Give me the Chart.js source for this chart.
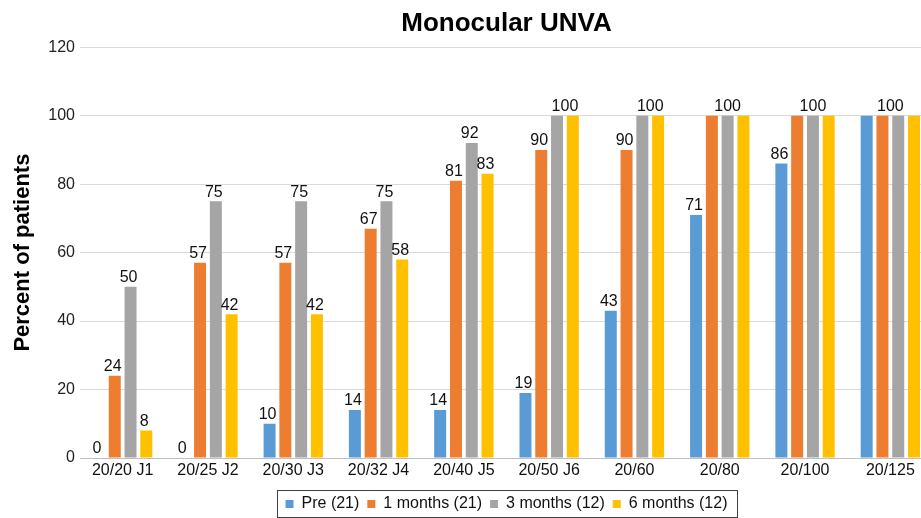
<!DOCTYPE html>
<html>
<head>
<meta charset="utf-8">
<script src="https://cdn.jsdelivr.net/npm/chart.js@4"></script>
<style>
  html, body { margin: 0; padding: 0; background: #fff; overflow: hidden; }
  #wrap { width: 940px; height: 518px; }
</style>
</head>
<body>
<div id="wrap"><canvas id="barChart" width="940" height="518"></canvas></div>
<script>
  // Chart data
  const categories = ['20/20 J1', '20/25 J2', '20/30 J3', '20/32 J4', '20/40 J5', '20/50 J6', '20/60', '20/80', '20/100', '20/125'];
  const seriesNames = ['Pre (21)', '1 months (21)', '3 months (12)', '6 months (12)'];
  const preValues = [0, 0, 10, 14, 14, 19, 43, 71, 86, 100];
  const oneMonthValues = [24, 57, 57, 67, 81, 90, 90, 100, 100, 100];
  const threeMonthValues = [50, 75, 75, 75, 92, 100, 100, 100, 100, 100];
  const sixMonthValues = [8, 42, 42, 58, 83, 100, 100, 100, 100, 100];
  const yTicks = [0, 20, 40, 60, 80, 100, 120];

  const colors = ['#5b9bd5', '#ed7d31', '#a5a5a5', '#ffc000'];
  const allValues = [preValues, oneMonthValues, threeMonthValues, sixMonthValues];
  const fontFamily = '"Liberation Sans", Arial, sans-serif';

  // Value labels above bars; bars at 100 share one label per group
  const valueLabels = {
    id: 'valueLabels',
    afterDatasetsDraw(chart) {
      const ctx = chart.ctx;
      ctx.save();
      ctx.font = '16px ' + fontFamily;
      ctx.fillStyle = '#111';
      ctx.textAlign = 'center';
      ctx.textBaseline = 'bottom';
      categories.forEach((cat, i) => {
        const fullBars = [];
        chart.data.datasets.forEach((ds, d) => {
          const bar = chart.getDatasetMeta(d).data[i];
          const v = ds.data[i];
          if (v === 100) {
            fullBars.push(bar);
          } else {
            ctx.fillText(String(v), bar.x - 2, bar.y - 1);
          }
        });
        if (fullBars.length) {
          const x = (fullBars[0].x + fullBars[fullBars.length - 1].x) / 2;
          ctx.fillText('100', x, fullBars[0].y - 1);
        }
      });
      ctx.restore();
    }
  };

  // Border around the legend
  const legendBorder = {
    id: 'legendBorder',
    afterDraw(chart) {
      const boxes = chart.legend.legendHitBoxes;
      if (!boxes || !boxes.length) return;
      const first = boxes[0];
      const last = boxes[boxes.length - 1];
      const ctx = chart.ctx;
      const cy = first.top + first.height / 2;
      ctx.save();
      ctx.strokeStyle = '#404040';
      ctx.lineWidth = 1;
      ctx.strokeRect(Math.round(first.left - 9) + 0.5, Math.round(cy - 14) + 0.5,
        Math.round(last.left + last.width - first.left + 18), 27);
      ctx.restore();
    }
  };

  const config = {
    type: 'bar',
    data: {
      labels: categories,
      datasets: allValues.map((vals, k) => ({
        label: seriesNames[k],
        data: vals,
        backgroundColor: colors[k],
        borderWidth: 0,
        categoryPercentage: 0.74,
        barPercentage: 0.76
      }))
    },
    options: {
      responsive: false,
      animation: false,
      layout: { padding: { left: 0, right: 7, top: 8, bottom: -4 } },
      plugins: {
        tooltip: { enabled: false },
        title: {
          display: true,
          text: 'Monocular UNVA',
          fullSize: false,
          color: '#000',
          font: { family: fontFamily, size: 26, weight: 'bold' },
          padding: { top: 0, bottom: 8 }
        },
        legend: {
          position: 'bottom',
          fullSize: false,
          labels: {
            color: '#111',
            font: { family: fontFamily, size: 16 },
            boxWidth: 8,
            boxHeight: 8,
            padding: 8
          }
        }
      },
      scales: {
        x: {
          afterFit(scale) { scale.height = 30; },
          grid: { display: false, drawTicks: false },
          border: { color: '#bfbfbf' },
          ticks: {
            color: '#111',
            padding: 3,
            maxRotation: 0,
            font: { family: fontFamily, size: 16 }
          }
        },
        y: {
          min: 0,
          max: 120,
          afterBuildTicks(scale) {
            scale.ticks = yTicks.map(v => ({ value: v }));
          },
          afterFit(scale) { scale.width = 80; },
          grid: { color: '#d9d9d9', drawTicks: false },
          border: { display: false },
          ticks: {
            color: '#222',
            padding: 5,
            font: { family: fontFamily, size: 16 }
          },
          title: {
            display: true,
            text: 'Percent of patients',
            color: '#000',
            font: { family: fontFamily, size: 22, weight: 'bold' },
            padding: { top: 10, bottom: 0 }
          }
        }
      }
    },
    plugins: [valueLabels, legendBorder]
  };

  const ctx = document.getElementById('barChart').getContext('2d');
  new Chart(ctx, config);
</script>
</body>
</html>
